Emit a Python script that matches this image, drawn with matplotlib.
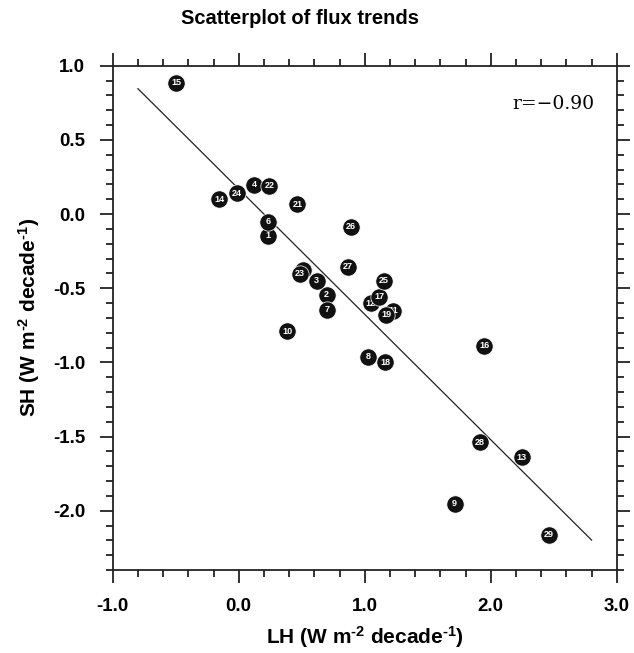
import matplotlib
matplotlib.use("Agg")
import matplotlib.pyplot as plt
from matplotlib.ticker import MultipleLocator, FixedLocator

# ---- data ----
point_ids = [1, 2, 3, 4, 5, 6, 7, 8, 9, 10, 11, 12, 13, 14, 15,
             16, 17, 18, 19, 21, 22, 23, 24, 25, 26, 27, 28, 29]
lh_trend = [0.235, 0.698, 0.619, 0.124, 0.512, 0.235, 0.698, 1.024, 1.714, 0.386,
            1.225, 1.048, 2.246, -0.156, -0.498, 1.947, 1.116, 1.161, 1.169,
            0.465, 0.243, 0.488, -0.016, 1.153, 0.891, 0.865, 1.915, 2.463]
sh_trend = [-0.148, -0.545, -0.449, 0.196, -0.378, -0.053, -0.646, -0.961, -1.953, -0.792,
            -0.653, -0.601, -1.639, 0.100, 0.886, -0.887, -0.557, -1.001, -0.680,
            0.067, 0.189, -0.404, 0.140, -0.451, -0.087, -0.354, -1.538, -2.162]
fit_x = [-0.80, 2.80]
fit_y = [0.845, -2.198]
corr_text = "r=\u22120.90"
x_ticks = [-1.0, 0.0, 1.0, 2.0, 3.0]
x_ticklabels = ["-1.0", "0.0", "1.0", "2.0", "3.0"]
y_ticks = [-2.0, -1.5, -1.0, -0.5, 0.0, 0.5, 1.0]
y_ticklabels = ["-2.0", "-1.5", "-1.0", "-0.5", "0.0", "0.5", "1.0"]

plt.rcParams["font.family"] = ["Liberation Sans", "DejaVu Sans"]
plt.rcParams["mathtext.fontset"] = "custom"
plt.rcParams["mathtext.rm"] = "Liberation Sans:bold"
plt.rcParams["mathtext.it"] = "Liberation Sans:bold"
plt.rcParams["mathtext.bf"] = "Liberation Sans:bold"
plt.rcParams["mathtext.default"] = "rm"

fig = plt.figure(figsize=(6.34, 6.53), dpi=100)
ax = fig.add_axes([0.1778, 0.1271, 0.7950, 0.7723])

ax.plot(fit_x, fit_y, color="#222222", lw=0.9, zorder=2)

for i, (pid, x, y) in enumerate(zip(point_ids, lh_trend, sh_trend)):
    ax.scatter([x], [y], s=155, color="#111111", edgecolors="white",
               linewidths=0.5, zorder=3 + 2 * i)
    ax.text(x, y, str(pid), color="white", fontsize=6.5, fontweight="bold",
            ha="center", va="center", zorder=4 + 2 * i)

ax.set_xlim(-1.0, 3.0)
ax.set_ylim(-2.4, 1.0)
ax.xaxis.set_major_locator(FixedLocator(x_ticks))
ax.set_xticklabels(x_ticklabels)
ax.yaxis.set_major_locator(FixedLocator(y_ticks))
ax.set_yticklabels(y_ticklabels)
ax.xaxis.set_minor_locator(MultipleLocator(0.2))
ax.yaxis.set_minor_locator(MultipleLocator(0.1))

for sp in ax.spines.values():
    sp.set_linewidth(1.3)
    sp.set_color("#222222")

ax.tick_params(which="both", direction="out", top=True, right=True,
               width=1.3, color="#222222")
ax.tick_params(which="major", length=9.4, pad=10.5, labelsize=13.5)
ax.tick_params(which="minor", length=4.7)
for lab in ax.get_xticklabels() + ax.get_yticklabels():
    lab.set_fontweight("bold")

ax.set_xlabel("LH (W m$^{\\text{-2}}$ decade$^{\\text{-1}}$)", fontsize=15,
              fontweight="bold", labelpad=7)
ax.set_ylabel("SH (W m$^{\\text{-2}}$ decade$^{\\text{-1}}$)", fontsize=15,
              fontweight="bold", labelpad=8)

ax.text(0.955, 0.925, corr_text, transform=ax.transAxes, ha="right", va="center",
        fontsize=13.5, family="DejaVu Serif")

fig.text(300 / 634, 1 - 19 / 653, "Scatterplot of flux trends", ha="center",
         va="center", fontsize=14.5, fontweight="bold")

fig.savefig("out.png", dpi=100)
